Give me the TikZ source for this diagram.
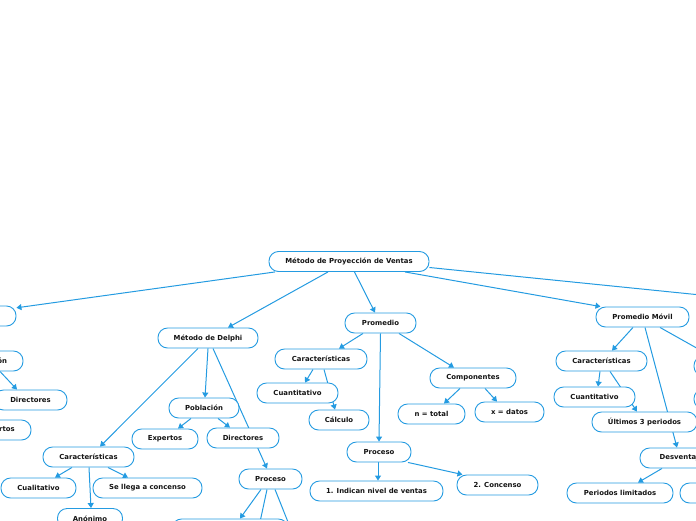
\documentclass[tikz,border=0pt]{standalone}
\usepackage{fontspec}
\setmainfont{DejaVu Sans}
\usetikzlibrary{arrows.meta,backgrounds}
\definecolor{bcol}{RGB}{36,155,225}
\definecolor{tcol}{RGB}{20,20,20}
\begin{document}
\begin{tikzpicture}[x=1pt,y=-1pt,
  box/.style={draw=bcol,line width=0.9pt,fill=white,rounded corners=9.5pt,
    minimum height=20pt,inner sep=1pt,font=\fontsize{6.9}{8}\selectfont\bfseries,text=tcol},
  edge/.style={draw=bcol,line width=1pt,-{Triangle[length=5pt,width=6pt]}}]
\useasboundingbox (0,0) rectangle (696,520);
% nodes
\node[box,minimum width=160pt] (root) at (349,261.5) {Método de Proyección de Ventas};
\node[box,minimum width=92pt] (L0) at (-30,316) {};
\node[box,minimum width=100pt] (delphi) at (208,338) {Método de Delphi};
\node[box,minimum width=70pt] (Lpob) at (-12,361) {Población};
\node[box,minimum width=73pt] (Ldir) at (30.5,400) {Directores};
\node[box,minimum width=67pt] (Lexp) at (-2.5,430) {Expertos};
\node[box,minimum width=91pt] (dcar) at (88.5,457) {Características};
\node[box,minimum width=70pt] (dpob) at (204,408) {Población};
\node[box,minimum width=72pt] (ddir) at (243,438) {Directores};
\node[box,minimum width=66pt] (dexp) at (165,439) {Expertos};
\node[box,minimum width=63pt] (dproc) at (270.5,479) {Proceso};
\node[box,minimum width=75pt] (dcual) at (38.5,488) {Cualitativo};
\node[box,minimum width=109pt] (dse) at (147.5,488) {Se llega a concenso};
\node[box,minimum width=65pt] (danon) at (90,518.5) {Anónimo};
\node[box,minimum width=116pt] (dp1) at (230,529) {};
\node[box,minimum width=80pt] (dp2) at (245,565) {};
\node[box,minimum width=80pt] (dp3) at (318,600) {};
\node[box,minimum width=71pt] (prom) at (380.5,323) {Promedio};
\node[box,minimum width=92pt] (pcar) at (321,359) {Características};
\node[box,minimum width=81pt] (pcuan) at (297.5,393) {Cuantitativo};
\node[box,minimum width=60pt] (pcal) at (339,420) {Cálculo};
\node[box,minimum width=86pt] (pcomp) at (473,378) {Componentes};
\node[box,minimum width=67pt] (pn) at (431.5,414) {n = total};
\node[box,minimum width=69pt] (px) at (509.5,412) {x = datos};
\node[box,minimum width=64pt] (pproc) at (379,452) {Proceso};
\node[box,minimum width=133pt] (pind) at (376.5,491) {1. Indican nivel de ventas};
\node[box,minimum width=81pt] (pcon) at (497.5,485) {2. Concenso};
\node[box,minimum width=93pt] (mov) at (642.5,317) {Promedio Móvil};
\node[box,minimum width=91pt] (mcar) at (601.5,361) {Características};
\node[box,minimum width=81pt] (mcuan) at (594.5,397) {Cuantitativo};
\node[box,minimum width=105pt] (mult) at (644.5,422) {Últimos 3 periodos};
\node[box,minimum width=87pt] (mdes) at (683.5,458) {Desventajas};
\node[box,minimum width=106pt] (mper) at (620,493) {Periodos limitados};
\node[box,minimum width=80pt] (mr1) at (720,493) {};
\node[box,minimum width=92pt] (mright1) at (740,366) {};
\node[box,minimum width=92pt] (mright2) at (740,399) {};
\node[box,minimum width=120pt] (farR) at (860,305) {};
% edges
\begin{pgfonlayer}{background}
\draw[edge] ([xshift=-74pt]root.south) -- (L0.10);
\draw[edge] ([xshift=-21pt]root.south) -- ([xshift=20pt]delphi.north);
\draw[edge] ([xshift=5.5pt]root.south) -- ([xshift=-5.5pt]prom.north);
\draw[edge] ([xshift=56pt]root.south) -- ([xshift=-42pt]mov.north);
\draw[edge] ([yshift=-6pt]root.east) -- (farR.west);
\draw[edge] ([xshift=-10pt]delphi.south) -- ([xshift=11.5pt]dcar.north);
\draw[edge] (delphi.south) -- ([xshift=1pt]dpob.north);
\draw[edge] ([xshift=5pt]delphi.south) -- ([xshift=-3.5pt]dproc.north);
\draw[edge] ([xshift=-13pt]dpob.south) -- ([xshift=13pt]dexp.north);
\draw[edge] ([xshift=14pt]dpob.south) -- ([xshift=-13pt]ddir.north);
\draw[edge] ([xshift=-16.5pt]dcar.south) -- ([xshift=16.5pt]dcual.north);
\draw[edge] ([xshift=0.5pt]dcar.south) -- ([xshift=1pt]danon.north);
\draw[edge] ([xshift=19.5pt]dcar.south) -- ([xshift=-19.5pt]dse.north);
\draw[edge] ([xshift=-9.5pt]dproc.south) -- ([xshift=10pt]dp1.north);
\draw[edge] ([xshift=-3.5pt]dproc.south) -- ([xshift=8pt]dp2.north);
\draw[edge] ([xshift=4.5pt]dproc.south) -- ([xshift=-3pt]dp3.north);
\draw[edge] ([xshift=12pt]Lpob.south) -- ([xshift=-13.5pt]Ldir.north);
\draw[edge] ([xshift=-17.5pt]prom.south) -- ([xshift=18pt]pcar.north);
\draw[edge] (prom.south) -- (pproc.north);
\draw[edge] ([xshift=18.5pt]prom.south) -- ([xshift=-19pt]pcomp.north);
\draw[edge] ([xshift=-8pt]pcar.south) -- ([xshift=7.5pt]pcuan.north);
\draw[edge] ([xshift=3pt]pcar.south) -- ([xshift=-4pt]pcal.north);
\draw[edge] ([xshift=-13pt]pcomp.south) -- ([xshift=12.5pt]pn.north);
\draw[edge] ([xshift=12pt]pcomp.south) -- ([xshift=-12.5pt]px.north);
\draw[edge] ([xshift=-1pt]pproc.south) -- ([xshift=1.5pt]pind.north);
\draw[edge] ([xshift=29pt]pproc.south) -- ([xshift=-35pt]pcon.north);
\draw[edge] ([xshift=-9.5pt]mov.south) -- ([xshift=10.5pt]mcar.north);
\draw[edge] ([xshift=2.5pt]mov.south) -- ([xshift=-6.5pt]mdes.north);
\draw[edge] ([xshift=17.5pt]mov.south) -- ([xshift=-30pt]mright1.north);
\draw[edge] ([xshift=-1.5pt]mcar.south) -- ([xshift=3.5pt]mcuan.north);
\draw[edge] ([xshift=8.5pt]mcar.south) -- ([xshift=-7.5pt]mult.north);
\draw[edge] ([xshift=-21.5pt]mdes.south) -- ([xshift=18pt]mper.north);
\end{pgfonlayer}
\end{tikzpicture}
\end{document}
